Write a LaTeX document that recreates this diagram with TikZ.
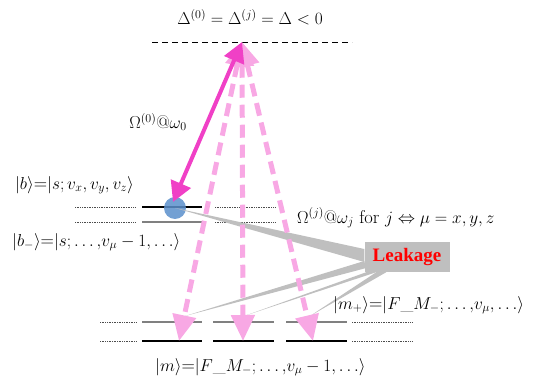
\documentclass[tikz,border=0pt]{standalone}
\usepackage{amsmath}
\usepackage{fontspec}
\newfontfamily\leakfont{Liberation Serif}
\definecolor{pumpmag}{HTML}{F040C6}
\definecolor{probepink}{HTML}{F8A8E4}
\definecolor{leakgray}{HTML}{BFBFBF}
\definecolor{atomblue}{HTML}{5B8FCB}
\usetikzlibrary{arrows.meta, positioning, calc}

\begin{document}
\begin{tikzpicture}[x=1pt, y=-1pt,
    lbl/.style={font=\fontsize{18.5}{21}\selectfont, inner sep=0pt},
    brightlvl/.style={black, line width=2.6pt},
    dimlvl/.style={gray, line width=2.4pt},
    dotlvl/.style={line width=0.6pt, black!70, dash pattern=on 0.8pt off 0.9pt},
    pump/.style={pumpmag, line width=4pt, {Triangle[length=20pt, width=21pt]}-{Triangle[length=20pt, width=21pt]}},
    probe/.style={probepink, line width=5pt, dash pattern=on 13pt off 7pt,
        {Triangle[length=24pt, width=23pt]}-{Triangle[length=26pt, width=23pt]}},
    leakbox/.style={fill=leakgray, minimum width=85pt, minimum height=30pt, inner sep=0pt,
        font=\leakfont\bfseries\fontsize{19}{21}\selectfont, text=red},
]
    \useasboundingbox (0,0) rectangle (536,390);

    % detuning
    \node[lbl] (detune) at (250,17) {$\Delta^{(0)}=\Delta^{(j)}=\Delta<0$};
    \draw[black, line width=0.7pt, dash pattern=on 6pt off 4pt] (152,42) -- (352,42);
    \coordinate (apex) at (242,42);

    % |b> and |b-> levels
    \draw[dotlvl] (75,207) -- (135,207);
    \draw[dotlvl] (215,207) -- (276,207);
    \draw[dotlvl] (75,222) -- (135,222);
    \draw[dotlvl] (215,222) -- (276,222);
    \draw[brightlvl] (142,207) -- (202,207);
    \draw[dimlvl] (142,222) -- (202,222);

    % |m+> and |m> levels
    \foreach \xa/\xb/\nm in {142/202/1, 213/274/2, 286/347/3} {
        \draw[dimlvl] (\xa,322) -- (\xb,322);
        \draw[brightlvl] (\xa,341) -- (\xb,341);
    }
    \draw[dotlvl] (100,322) -- (136,322);
    \draw[dotlvl] (100,341) -- (136,341);
    \draw[dotlvl] (352,322) -- (413,322);
    \draw[dotlvl] (352,341) -- (413,341);
    \coordinate (m1) at (179,341);
    \coordinate (m2) at (243,341);
    \coordinate (m3) at (313,341);

    % atom
    \node[circle, fill=atomblue, fill opacity=0.85, minimum size=22pt, inner sep=0pt] (atom) at (175,208) {};

    % leakage
    \node[leakbox] (leak) at (407,257) {Leakage};
    \fill[leakgray] (atom.center) -- ($(leak.west)+(0,-8)$) -- ($(leak.west)+(0,5)$) -- cycle;
    \fill[leakgray] (185,316) -- ($(leak.west)+(0,4)$) -- ($(leak.west)+(2,11)$) -- cycle;
    \fill[leakgray] (247,315) -- ($(leak.south west)+(2,0)$) -- ($(leak.south west)+(12,0)$) -- cycle;
    \fill[leakgray] (310,316) -- ($(leak.south west)+(12,0)$) -- ($(leak.south west)+(22,0)$) -- cycle;

    % beams
    \draw[probe] (apex) -- (m1);
    \draw[probe] (apex) -- (m2);
    \draw[probe] (apex) -- (m3);
    \draw[pump] ($(atom.center)+(-2,-6)$) -- (apex);

    % labels
    \node[lbl] (om0) at (158,122) {$\Omega^{(0)}@\omega_0$};
    \node[lbl, anchor=west] (blab) at (15,185) {$|b\rangle${=}$|s;v_x,v_y,v_z\rangle$};
    \node[lbl, anchor=west] (bmlab) at (12,242) {$|b_-\rangle${=}$|s;\ldots{,}v_\mu-1,\ldots\rangle$};
    \node[lbl, anchor=west] (omj) at (297,218) {$\Omega^{(j)}@\omega_j$ for $j\Leftrightarrow\mu=x,y,z$};
    \node[lbl, anchor=west] (mplab) at (333,305) {$|m_+\rangle${=}$|F\_M_-;\ldots{,}v_\mu,\ldots\rangle$};
    \node[lbl, anchor=west] (mlab) at (155,367) {$|m\rangle${=}$|F\_M_-;\ldots{,}v_\mu-1,\ldots\rangle$};
\end{tikzpicture}
\end{document}
